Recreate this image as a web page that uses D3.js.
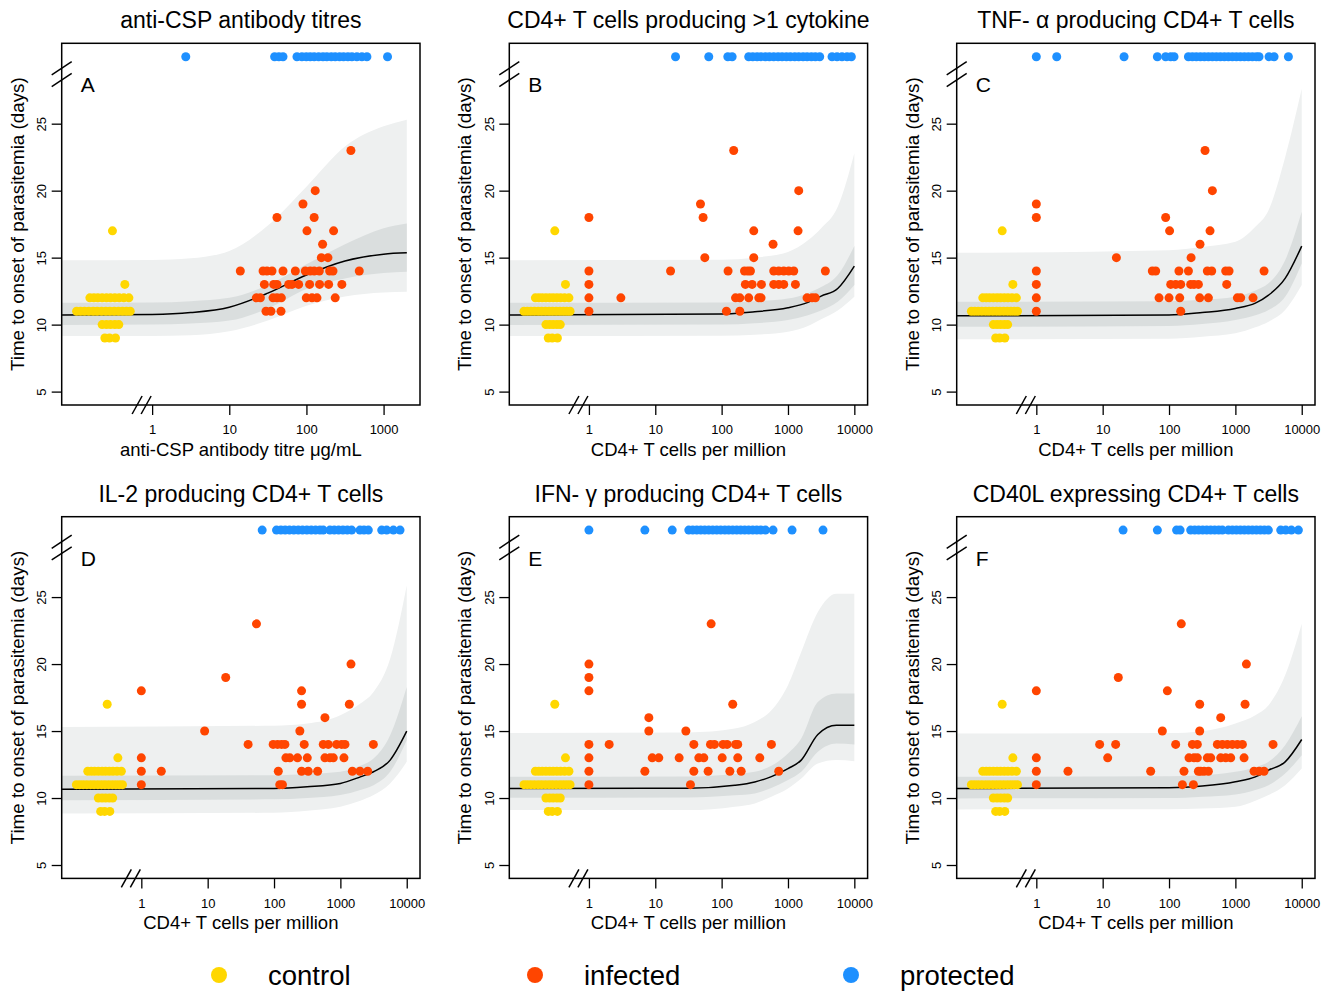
<!DOCTYPE html>
<html><head><meta charset="utf-8">
<script src="https://cdn.jsdelivr.net/npm/d3@7"></script>
<style>body{margin:0;background:#fff} text{font-family:"Liberation Sans",Arial,sans-serif;fill:#000}</style>
</head><body><svg id="chart" width="1332" height="994"></svg>
<script>
// ---------- DATA ----------
const titles = ["anti-CSP antibody titres","CD4+ T cells producing >1 cytokine","TNF- \u03b1 producing CD4+ T cells",
                "IL-2 producing CD4+ T cells","IFN- \u03b3 producing CD4+ T cells","CD40L expressing CD4+ T cells"];
const letters = ["A","B","C","D","E","F"];
const xTitles = ["anti-CSP antibody titre \u03bcg/mL","CD4+ T cells per million","CD4+ T cells per million",
                 "CD4+ T cells per million","CD4+ T cells per million","CD4+ T cells per million"];
const xTicksA = [1,10,100,1000];
const xTicksCells = [1,10,100,1000,10000];
const yTicks = [5,10,15,20,25];
const legendLabels = ["control","infected","protected"];
const protectedDay = 30;

// controls (same in every panel): [value, days]
const controlPoints = [
 [0.105,11],[0.118,11],[0.133,11],[0.151,11],[0.172,11],[0.194,11],[0.221,11],[0.251,11],[0.283,11],[0.322,11],[0.366,11],[0.413,11],[0.465,11],[0.52,11],
 [0.156,12],[0.176,12],[0.198,12],[0.225,12],[0.256,12],[0.289,12],[0.329,12],[0.374,12],[0.43,12],[0.5,12],
 [0.225,10],[0.256,10],[0.289,10],[0.329,10],[0.37,10],
 [0.244,9],[0.28,9],[0.335,9],
 [0.443,13],[0.306,17]
];

// infected: [value, days]
const infectedA = [
 [13.9,14],[27.4,14],[30.8,14],[35.8,14],[49.7,14],[71.8,14],[96.7,14],[112,14],[126,14],[147,14],[200,14],[221,14],[484,14],
 [28.5,13],[37.6,13],[41.5,13],[58.9,13],[65,13],[79.3,13],[110,13],[148,13],[194,13],[288,13],
 [22.4,12],[25.3,12],[36.9,12],[41.5,12],[47.3,12],[99.6,12],[118,12],[137,12],[236,12],
 [29.9,11],[34.7,11],[46.8,11],
 [156,15],[190,15],[162,16],[101.6,17],[225,17],[41.5,18],[126,18],[90.2,19],[130,20],[377,23]
];
const infectedB = [
 [1,18],[1,14],[1,13],[1,12],[1,11],
 [17,14],[125,14],[221,14],[248,14],[272,14],[610,14],[726,14],[863,14],[1026,14],[1222,14],[3658,14],
 [228,13],[288,13],[398,13],[610,13],[726,13],[863,13],[1294,13],
 [3.03,12],[162,12],[188,12],[256,12],[363,12],[393,12],[1938,12],[2305,12],[2588,12],
 [118,11],[188,11],
 [48,19],[52.6,18],[55.8,15],[305,15],[305,17],[1419,17],[596,16],[1452,20],[152,23]
];
const infectedC = [
 [1,19],[1,18],[1,14],[1,13],[1,12],[1,11],[89,18],
 [56,14],[63,14],[141,14],[196,14],[378,14],[440,14],[715,14],[803,14],[2704,14],
 [106,13],[126,13],[150,13],[212,13],[238,13],[277,13],[740,13],
 [70.7,12],[100,12],[145,12],[290,12],[392,12],[1072,12],[1203,12],[1846,12],
 [150,11],
 [16.1,15],[215,15],[102,17],[415,17],[293,16],[349,23],[450,20]
];
const infectedD = [
 [1,18],[1,13],[1,12],[1,11],[260,18],
 [151,13],[173,13],[226,13],[317,13],[585,13],[697,13],[782,13],[1132,13],
 [2.0,12],[116,12],[260,12],[328,12],[454,12],[1514,12],[1976,12],[2579,12],
 [122,11],[134,11],
 [9.0,15],[245,15],[18.7,19],[54.4,23],
 [40.7,14],[97,14],[113,14],[130,14],[146,14],[285,14],[552,14],[657,14],[878,14],[1045,14],[1173,14],[3140,14],
 [260,17],[1364,17],[585,16],[1445,20]
];
const infectedE = [
 [1,20],[1,19],[1,18],[1,14],[1,13],[1,12],[1,11],
 [2.02,14],[38.1,14],[67.9,14],[78,14],[105,14],[121,14],[162,14],[175,14],[563,14],
 [8.0,16],[8.0,15],[28.9,15],
 [6.97,12],[38.1,12],[62.6,12],[133,12],[197,12],[726,12],
 [9.0,13],[11.3,13],[22.9,13],[45.3,13],[53.9,13],[102,13],[175,13],[376,13],
 [33.9,11],[69.5,23],[147,17]
];
const infectedF = [
 [1,18],[1,13],[1,12],[1,11],[94.4,18],
 [11.9,13],[200,13],[238,13],[267,13],[378,13],[425,13],[601,13],[715,13],[851,13],[1352,13],
 [3.0,12],[52.9,12],[168,12],[277,12],[300,12],[337,12],[392,12],[1911,12],[2273,12],[2704,12],
 [159,11],[233,11],
 [9.0,14],[15.7,14],[126,14],[225,14],[267,14],[535,14],[637,14],[757,14],[901,14],[1072,14],[1276,14],[3698,14],
 [17.2,19],[79.3,15],[290,15],[153,23],[290,17],[1400,17],[601,16],[1466,20]
];

// protected (plotted above the axis break)
const protectedA = [2.73,38.7,44,49.7,75.4,87.5,99.6,112,126,144,164,184,210,236,269,303,345,389,451,524,608,1125];
const protectedB = [20.2,64,124,144,256,295,342,393,457,525,610,709,815,946,1087,1264,1452,1687,1938,2252,2588,3007,4613,5483,6518,7762,9017];
const protectedC = [1,2.03,21,66.7,89,106,119,196,225,258,297,341,392,450,517,594,683,784,901,1035,1189,1366,1570,1803,2073,2273,3219,3829,6297];
const protectedD = [66.3,109,127,147,171,199,232,269,313,364,423,492,552,697,809,941,1094,1271,1478,1976,2270,2639,4198,4989,6295,7929];
const protectedE = [1,6.97,18,32,36.8,42.3,48.6,55.8,64.1,73.6,84.6,97.1,112,128,147,169,194,223,256,295,339,389,457,596,1152,3375];
const protectedF = [20.3,66.7,130,147,212,244,280,322,370,425,488,561,637,784,901,1035,1189,1366,1570,1803,2073,2382,2736,3142,4823,5738,6982,8907];

// model fit and bands
const modelXA   = [0.068,1,3.16,10,31.6,100,316,1000,2000];
const fitA      = [10.71,10.76,10.9,11.3,12.35,13.7,14.75,15.26,15.36];
const hi95A     = [14.81,14.83,14.95,15.5,17.4,20.3,23.3,24.8,25.3];
const lo95A     = [9.15,9.15,9.2,9.5,10.3,11.4,12.1,12.4,12.45];
const hi50A     = [11.63,11.65,11.75,12.0,12.95,14.5,16.0,17.2,17.55];
const lo50A     = [9.97,10.0,10.08,10.3,11.2,12.65,13.45,13.85,13.94];

const modelXCells = [0.063,100,316,1000,2000,3162,5623,10000];
const fitB  = [10.71,10.79,10.96,11.26,11.66,12.13,12.7,14.37];
const hi95B = [14.81,14.85,15.0,15.43,16.3,17.2,18.8,22.8];
const lo95B = [9.15,9.17,9.25,9.47,9.9,10.4,11.05,12.08];
const hi50B = [11.63,11.65,11.75,11.95,12.35,12.8,13.7,15.86];
const lo50B = [9.97,10.0,10.1,10.34,10.7,11.05,11.7,12.95];

const fitC  = [10.66,10.71,10.9,11.21,11.6,12.2,13.45,15.86];
const hi95C = [15.36,15.56,15.8,16.18,17.3,18.54,22.5,27.6];
const lo95C = [8.9,8.95,9.1,9.35,9.8,10.22,11.09,12.95];
const hi50C = [11.71,11.75,11.85,12.08,12.55,13.08,14.81,18.42];
const lo50C = [9.84,9.9,10.05,10.34,10.7,11.09,12.08,14.57];

const fitD  = [10.66,10.71,10.84,11.09,11.58,11.96,12.83,14.99];
const hi95D = [15.31,15.4,15.56,16.18,17.05,17.92,20.4,25.87];
const lo95D = [8.85,8.9,9.05,9.35,9.8,10.22,11.09,12.7];
const hi50D = [11.66,11.7,11.8,11.96,12.4,12.95,14.69,18.29];
const lo50D = [9.84,9.9,10.0,10.22,10.6,10.96,11.96,14.32];

const modelXE = [0.063,31.6,158,316,562,1000,1585,2818,5370,10000];
const fitE  = [10.71,10.73,10.95,11.2,11.6,12.2,12.83,14.74,15.43,15.43];
const hi95E = [14.86,14.9,15.19,15.68,16.55,18.42,20.9,23.88,25.25,25.25];
const lo95E = [9.1,9.1,9.35,9.6,10.1,10.71,11.46,12.58,12.83,12.75];
const hi50E = [11.58,11.6,11.8,11.96,12.4,13.32,14.44,17.17,17.8,17.8];
const lo50E = [10.02,10.04,10.2,10.34,10.75,11.34,11.96,13.45,14.07,14.0];

const fitF  = [10.71,10.76,10.89,11.21,11.58,12.08,12.7,14.37];
const hi95F = [14.81,14.85,14.99,15.56,16.18,16.93,19.16,23.01];
const lo95F = [9.15,9.17,9.22,9.35,9.8,10.22,10.96,12.2];
const hi50F = [11.58,11.62,11.7,11.96,12.3,12.7,13.94,16.1];
const lo50F = [9.97,10.0,10.1,10.27,10.6,10.96,11.83,13.2];

// ---------- STYLE ----------
const colControl = "#FFD700", colInfected = "#FF4500", colProtected = "#1E90FF";
const colOuter = "#EEF0F0", colInner = "#DADEDE";
const colLeft = [61.7, 509.3, 956.7], rowTop = [43.3, 516.7], W = 358.3, H = 361.7;
const ptR = 4.5;

const panels = [
 {xd:[Math.pow(10,-1.172), Math.pow(10,3.472)], ticks:xTicksA, inf:infectedA, prot:protectedA, mx:modelXA, fit:fitA, h95:hi95A, l95:lo95A, h50:hi50A, l50:lo50A},
 {xd:[Math.pow(10,-1.2), Math.pow(10,4.2)], ticks:xTicksCells, inf:infectedB, prot:protectedB, mx:modelXCells, fit:fitB, h95:hi95B, l95:lo95B, h50:hi50B, l50:lo50B},
 {xd:[Math.pow(10,-1.2), Math.pow(10,4.2)], ticks:xTicksCells, inf:infectedC, prot:protectedC, mx:modelXCells, fit:fitC, h95:hi95C, l95:lo95C, h50:hi50C, l50:lo50C},
 {xd:[Math.pow(10,-1.2), Math.pow(10,4.2)], ticks:xTicksCells, inf:infectedD, prot:protectedD, mx:modelXCells, fit:fitD, h95:hi95D, l95:lo95D, h50:hi50D, l50:lo50D},
 {xd:[Math.pow(10,-1.2), Math.pow(10,4.2)], ticks:xTicksCells, inf:infectedE, prot:protectedE, mx:modelXE, fit:fitE, h95:hi95E, l95:lo95E, h50:hi50E, l50:lo50E},
 {xd:[Math.pow(10,-1.2), Math.pow(10,4.2)], ticks:xTicksCells, inf:infectedF, prot:protectedF, mx:modelXCells, fit:fitF, h95:hi95F, l95:lo95F, h50:hi50F, l50:lo50F}
];

const svg = d3.select("#chart");
const defs = svg.append("defs");

panels.forEach((p, i) => {
  const left = colLeft[i % 3], top = rowTop[Math.floor(i / 3)];
  const right = left + W, bottom = top + H;
  const x = d3.scaleLog().domain(p.xd).range([left, right]);
  const y = d3.scaleLinear().domain([4, 31]).range([bottom, top]);
  const g = svg.append("g");

  defs.append("clipPath").attr("id", "clip" + i)
    .append("rect").attr("x", left).attr("y", top).attr("width", W).attr("height", H);
  const plot = g.append("g").attr("clip-path", `url(#clip${i})`);

  const idx = d3.range(p.mx.length);
  const area = (lo, hi) => d3.area().x(j => x(p.mx[j])).y0(j => y(lo[j])).y1(j => y(hi[j])).curve(d3.curveMonotoneX);
  plot.append("path").attr("d", area(p.l95, p.h95)(idx)).attr("fill", colOuter);
  plot.append("path").attr("d", area(p.l50, p.h50)(idx)).attr("fill", colInner);
  plot.append("path").attr("d", d3.line().x(j => x(p.mx[j])).y(j => y(p.fit[j])).curve(d3.curveMonotoneX)(idx))
    .attr("fill", "none").attr("stroke", "#000").attr("stroke-width", 1.5);

  plot.selectAll("circle.ctl").data(controlPoints).join("circle").attr("class", "ctl")
    .attr("cx", d => x(d[0])).attr("cy", d => y(d[1])).attr("r", ptR).attr("fill", colControl);
  plot.selectAll("circle.inf").data(p.inf).join("circle").attr("class", "inf")
    .attr("cx", d => x(d[0])).attr("cy", d => y(d[1])).attr("r", ptR).attr("fill", colInfected);
  plot.selectAll("circle.prot").data(p.prot).join("circle").attr("class", "prot")
    .attr("cx", d => x(d)).attr("cy", y(protectedDay)).attr("r", ptR).attr("fill", colProtected);

  // axes
  const xa = g.append("g").attr("transform", `translate(0,${bottom})`)
    .call(d3.axisBottom(x).tickValues(p.ticks).tickFormat(d3.format("d")).tickSize(10).tickPadding(10));
  xa.select(".domain").remove();
  xa.selectAll("line").attr("stroke-width", 1.3);
  xa.selectAll("text").attr("font-size", 13).attr("font-family", '"Liberation Sans",Arial,sans-serif');

  const ya = g.append("g").attr("transform", `translate(${left},0)`)
    .call(d3.axisLeft(y).tickValues(yTicks).tickSize(10));
  ya.select(".domain").remove();
  ya.selectAll("line").attr("stroke-width", 1.3);
  ya.selectAll("text").attr("x", null).attr("dy", "0.35em").attr("text-anchor", "middle")
    .attr("transform", "translate(-20,0) rotate(-90)")
    .attr("font-size", 13).attr("font-family", '"Liberation Sans",Arial,sans-serif');

  // box
  g.append("rect").attr("x", left).attr("y", top).attr("width", W).attr("height", H)
    .attr("fill", "none").attr("stroke", "#000").attr("stroke-width", 1.5);

  // axis breaks
  const yb = y(28.7);
  [-5.85, 5.85].forEach(o => {
    g.append("line").attr("x1", left - 10).attr("y1", yb + o + 6.6).attr("x2", left + 10).attr("y2", yb + o - 6.6)
      .attr("stroke", "#000").attr("stroke-width", 1.5);
  });
  const x1 = x(1);
  [-15, -6].forEach(o => {
    g.append("line").attr("x1", x1 + o - 5).attr("y1", bottom + 9).attr("x2", x1 + o + 5).attr("y2", bottom - 9)
      .attr("stroke", "#000").attr("stroke-width", 1.5);
  });

  // texts
  g.append("text").attr("x", left + W / 2).attr("y", top - 15).attr("text-anchor", "middle")
    .attr("font-size", 23).text(titles[i]);
  g.append("text").attr("x", left + 19).attr("y", top + 49).attr("font-size", 21).text(letters[i]);
  g.append("text").attr("x", left + W / 2).attr("y", bottom + 51).attr("text-anchor", "middle")
    .attr("font-size", 18.5).text(xTitles[i]);
  g.append("text").attr("transform", `translate(${left - 38},${top + H / 2}) rotate(-90)`)
    .attr("text-anchor", "middle").attr("font-size", 18.8).text("Time to onset of parasitemia (days)");
});

// legend
const legendX = [219, 535, 851];
const legendCols = [colControl, colInfected, colProtected];
legendLabels.forEach((lab, k) => {
  svg.append("circle").attr("cx", legendX[k]).attr("cy", 975).attr("r", 8).attr("fill", legendCols[k]);
  svg.append("text").attr("x", legendX[k] + 49).attr("y", 985).attr("font-size", 27.5).text(lab);
});
</script>
</body></html>
